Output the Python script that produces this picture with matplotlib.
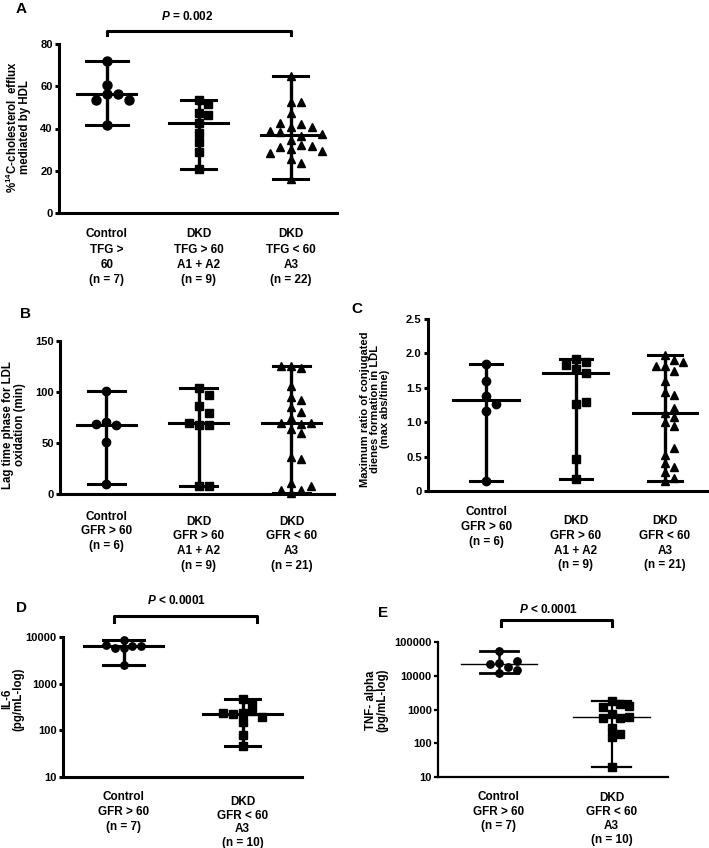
import numpy as np
import matplotlib
matplotlib.use("Agg")
import matplotlib.pyplot as plt

# ---------------- data ----------------
a_labels = ['Control\nTFG >\n60\n(n = 7)', 'DKD\nTFG > 60\nA1 + A2\n(n = 9)', 'DKD\nTFG < 60\nA3\n(n = 22)']
a_control = [71.9, 60.6, 56.1, 56.1, 53.4, 53.4, 41.5]
a_dkd_a12 = [53.4, 51.6, 47.4, 46.6, 42.5, 38.0, 33.5, 29.1, 20.7]
a_dkd_a3 = [64.8, 52.7, 52.7, 47.2, 40.9, 42.1, 42.7, 40.9, 38.5, 38.8, 34.6,
            36.5, 37.2, 32.2, 31.1, 31.6, 30.5, 28.3, 29.2, 25.4, 23.5, 15.9]
a_ticks = [0, 20, 40, 60, 80]

bc_labels = ['Control\nGFR > 60\n(n = 6)', 'DKD\nGFR > 60\nA1 + A2\n(n = 9)', 'DKD\nGFR < 60\nA3\n(n = 21)']
b_control = [101.3, 70.9, 67.6, 68.3, 51.3, 9.8]
b_dkd_a12 = [103.6, 97.0, 86.3, 79.0, 67.6, 67.6, 70.0, 7.8, 7.8]
b_dkd_a3 = [125, 124, 125, 106, 95.4, 92, 85, 80.7, 74.2, 68.6, 69.3, 69.3,
            63.4, 59.5, 36.6, 34, 10.5, 3.9, 1.3, 3.9, 7.8]
b_ticks = [0, 50, 100, 150]

c_control = [1.84, 1.60, 1.38, 1.27, 1.16, 0.15]
c_dkd_a12 = [1.78, 1.88, 1.92, 1.83, 1.71, 1.26, 1.30, 0.46, 0.17]
c_dkd_a3 = [1.97, 1.90, 1.81, 1.81, 1.88, 1.74, 1.60, 1.44, 1.40, 1.13, 1.20,
            1.08, 1.01, 0.945, 0.52, 0.62, 0.41, 0.35, 0.28, 0.19, 0.15]
c_ticks = [0, 0.5, 1.0, 1.5, 2.0, 2.5]
c_ticklabels = ['0', '0.5', '1.0', '1.5', '2.0', '2.5']

de_labels = ['Control\nGFR > 60\n(n = 7)', 'DKD\nGFR < 60\nA3\n(n = 10)']
d_control = [8600, 6500, 5700, 5700, 6400, 6900, 2500]
d_dkd = [460, 390, 240, 260, 220, 190, 150, 80, 47, 230]
d_ticks = [10, 100, 1000, 10000]

e_control = [55000, 23400, 18500, 21800, 27300, 14800, 11700]
e_dkd = [1820, 1455, 1210, 1270, 736, 573, 547, 586, 276, 188, 150, 20.2]
e_ticks = [10, 100, 1000, 10000, 100000]

# ---------------- style ----------------
plt.rcParams['font.family'] = ['Liberation Sans', 'DejaVu Sans']
plt.rcParams['font.weight'] = 'bold'
plt.rcParams['mathtext.fontset'] = 'custom'
plt.rcParams['mathtext.it'] = 'Liberation Sans:italic:bold'
plt.rcParams['mathtext.rm'] = 'Liberation Sans:bold'
plt.rcParams['mathtext.bf'] = 'Liberation Sans:bold'

W, H = 709, 848
fig = plt.figure(figsize=(W / 100, H / 100), dpi=100)


def add_ax(left, top, right, bottom):
    return fig.add_axes([left / W, 1 - bottom / H, (right - left) / W, (bottom - top) / H])


def ftext(x, y, s, **kw):
    fig.text(x / W, 1 - y / H, s, **kw)


def style_ax(ax, spine_lw=2.2, tick_fs=8):
    for s in ['top', 'right']:
        ax.spines[s].set_visible(False)
    for s in ['left', 'bottom']:
        ax.spines[s].set_linewidth(spine_lw)
    ax.tick_params(axis='y', length=3, width=spine_lw, pad=1.5, labelsize=tick_fs)
    ax.tick_params(axis='x', length=0, labelsize=8.5)
    ax.minorticks_off()


def set_xlabels(ax, labels, pads, spacings):
    ax.set_xticks(list(range(1, len(labels) + 1)))
    ax.set_xticklabels(labels)
    for t, p in zip(ax.xaxis.get_major_ticks(), pads):
        t.set_pad(p)
    for lbl, s in zip(ax.get_xticklabels(), spacings):
        lbl.set_linespacing(s)


def swarm(ax, x0, values, diam, step):
    pts = ax.transData.transform(np.column_stack([np.full(len(values), x0), values]))
    xpx0 = ax.transData.transform([[x0, values[0]]])[0, 0]
    xpx1 = ax.transData.transform([[x0 + 1, values[0]]])[0, 0]
    ppu = xpx1 - xpx0
    placed = []
    offs = []
    cands = [0.0]
    for i in range(1, 12):
        cands += [i * step, -i * step]
    for y in pts[:, 1]:
        for c in cands:
            if all((c - px) ** 2 + (y - py) ** 2 >= diam ** 2 for px, py in placed):
                break
        placed.append((c, y))
        offs.append(c / ppu)
    return x0 + np.array(offs)


def group(ax, x0, vals, marker, ms, med_w, cap_w, lw_med=2.2, lw_v=2.4, lw_cap=2.2, step=None):
    vals = np.asarray(vals, dtype=float)
    med = np.median(vals)
    lo, hi = vals.min(), vals.max()
    ax.plot([x0, x0], [lo, hi], color='k', lw=lw_v, clip_on=False, zorder=2, solid_capstyle='butt')
    ax.plot([x0 - cap_w, x0 + cap_w], [hi, hi], color='k', lw=lw_cap, clip_on=False, zorder=2)
    ax.plot([x0 - cap_w, x0 + cap_w], [lo, lo], color='k', lw=lw_cap, clip_on=False, zorder=2)
    ax.plot([x0 - med_w, x0 + med_w], [med, med], color='k', lw=lw_med, clip_on=False, zorder=2)
    diam = ms * 100 / 72
    xs = swarm(ax, x0, vals, diam * 0.95, step if step else diam * 1.2)
    ax.plot(xs, vals, linestyle='none', marker=marker, ms=ms, color='k', mec='k',
            clip_on=False, zorder=3)


# ---------------- Panel A ----------------
axA = add_ax(59, 44, 337, 213)
axA.set_xlim(0.48, 3.5)
axA.set_ylim(0, 80)
axA.set_yticks(a_ticks)
style_ax(axA)
set_xlabels(axA, a_labels, [11, 11, 11], [1.36, 1.36, 1.36])
group(axA, 1, a_control, 'o', 6.5, 0.32, 0.23)
group(axA, 2, a_dkd_a12, 's', 5.5, 0.32, 0.19)
group(axA, 3, a_dkd_a3, '^', 6.3, 0.33, 0.19)
axA.plot([1, 1, 3, 3], [84.3, 86.2, 86.2, 84.3], color='k', lw=2.2, clip_on=False)
axA.text(1.87, 92.8, '$P$ = 0.002', ha='center', va='center', fontsize=8.5)
ftext(16, 13, 'A', fontsize=11, ha='left', va='baseline')
ftext(18, 127, '%$^{\\mathrm{14}}$C-cholesterol  efflux\nmediated by HDL', rotation=90,
      ha='center', va='center', fontsize=8.3, linespacing=0.95)

# ---------------- Panel B ----------------
axB = add_ax(60, 341, 334, 494)
axB.set_xlim(0.5, 3.46)
axB.set_ylim(0, 150)
axB.set_yticks(b_ticks)
style_ax(axB)
set_xlabels(axB, bc_labels, [12, 15.5, 15.5], [1.3, 1.3, 1.3])
group(axB, 1, b_control, 'o', 6.0, 0.32, 0.2)
group(axB, 2, b_dkd_a12, 's', 6.0, 0.32, 0.2)
group(axB, 3, b_dkd_a3, '^', 6.0, 0.32, 0.2)
ftext(20, 318, 'B', fontsize=11, ha='left', va='baseline')
ftext(14, 425, 'Lag time phase for LDL\noxidation (min)', rotation=90,
      ha='center', va='center', fontsize=8.3, linespacing=0.95)

# ---------------- Panel C ----------------
axC = add_ax(428, 319, 708, 491)
axC.set_xlim(0.35, 3.48)
axC.set_ylim(0, 2.5)
axC.set_yticks(c_ticks)
axC.set_yticklabels(c_ticklabels)
style_ax(axC)
set_xlabels(axC, bc_labels, [11, 17.5, 17.5], [1.3, 1.3, 1.3])
group(axC, 1, c_control, 'o', 6.0, 0.37, 0.18)
group(axC, 2, c_dkd_a12, 's', 6.0, 0.36, 0.18)
group(axC, 3, c_dkd_a3, '^', 5.3, 0.36, 0.19)
ftext(351, 313, 'C', fontsize=11, ha='left', va='baseline')
ftext(375, 409, 'Maximum ratio of conjugated\ndienes formation in LDL\n(max abs/time)', rotation=90,
      ha='center', va='center', fontsize=8.0, linespacing=0.95)

# ---------------- Panel D ----------------
axD = add_ax(63, 637, 302, 777)
axD.set_yscale('log')
axD.set_xlim(0.49, 2.5)
axD.set_ylim(10, 10000)
axD.set_yticks(d_ticks)
axD.set_yticklabels([str(v) for v in d_ticks])
style_ax(axD)
set_xlabels(axD, de_labels, [10, 13.5], [1.35, 1.2])
group(axD, 1, d_control, 'o', 5.3, 0.335, 0.17)
group(axD, 2, d_dkd, 's', 5.8, 0.33, 0.15)
axD.plot([0.92, 0.92, 2.12, 2.12], [10 ** 4.33, 10 ** 4.45, 10 ** 4.45, 10 ** 4.33],
         color='k', lw=2.2, clip_on=False)
axD.text(1.445, 10 ** 4.78, '$P$ < 0.0001', ha='center', va='center', fontsize=8.5)
ftext(16, 612, 'D', fontsize=11, ha='left', va='baseline')
ftext(13, 699, 'IL-6\n(pg/mL-log)', rotation=90,
      ha='center', va='center', fontsize=8.3, linespacing=0.95)

# ---------------- Panel E ----------------
axE = add_ax(438, 642, 668, 777)
axE.set_yscale('log')
axE.set_xlim(0.46, 2.5)
axE.set_ylim(10, 100000)
axE.set_yticks(e_ticks)
axE.set_yticklabels([str(v) for v in e_ticks])
style_ax(axE, spine_lw=1.6)
set_xlabels(axE, de_labels, [10, 10.5], [1.3, 1.22])
group(axE, 1, e_control, 'o', 5.3, 0.34, 0.17, lw_med=1.0, lw_v=1.8, lw_cap=2.0)
group(axE, 2, e_dkd, 's', 5.3, 0.34, 0.17, lw_med=1.0, lw_v=1.6, lw_cap=1.6)
axE.plot([1.02, 1.02, 2.0, 2.0], [10 ** 5.47, 10 ** 5.65, 10 ** 5.65, 10 ** 5.47],
         color='k', lw=2.2, clip_on=False)
axE.text(1.44, 10 ** 5.97, '$P$ < 0.0001', ha='center', va='center', fontsize=8.5)
ftext(378, 617, 'E', fontsize=11, ha='left', va='baseline')
ftext(377, 700, 'TNF- alpha\n(pg/mL-log)', rotation=90,
      ha='center', va='center', fontsize=8.3, linespacing=0.95)

fig.savefig('out.png', dpi=100)
